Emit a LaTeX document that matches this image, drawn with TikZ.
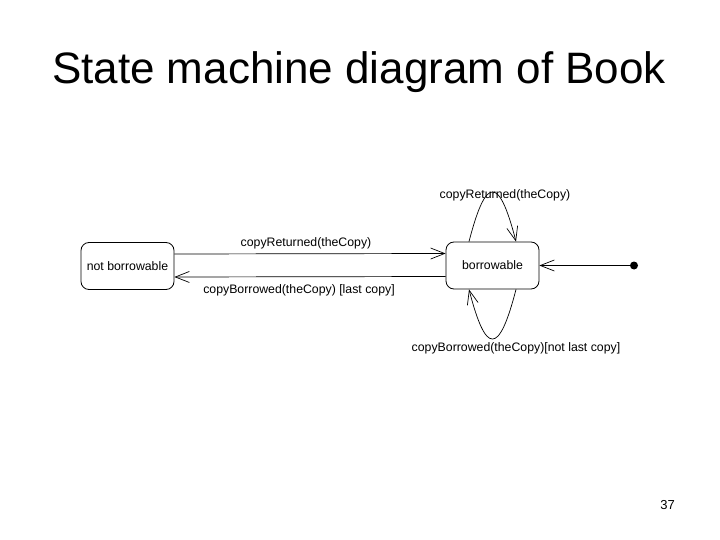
\documentclass[tikz,border=0pt]{standalone}
\usepackage{fontspec}
\setmainfont{Liberation Sans}
\usetikzlibrary{arrows.meta}
\begin{document}
\begin{tikzpicture}[x=1pt,y=-1pt,
  statebox/.style={draw,line width=0.8pt,rounded corners=8pt,minimum width=93pt,minimum height=47pt,inner sep=0pt,font=\fontsize{12.3}{15}\selectfont},
  lbl/.style={anchor=base,inner sep=0pt,font=\fontsize{12.3}{15}\selectfont},
  arr/.style={line width=0.7pt,-{Straight Barb[length=14pt,width=11pt,line width=0.7pt]}}]
\useasboundingbox (0,0) rectangle (720,540);
\node[anchor=base,inner sep=0pt,font=\fontsize{44}{50}\selectfont] (title) at (359,84) {State machine diagram of Book};
\node[statebox] (nb) at (127.5,266) {not borrowable};
\node[statebox] (b) at (492.5,265.5) {borrowable};
\node[circle,fill,inner sep=0pt,minimum size=8pt] (init) at (634,265.5) {};
\draw[arr] ([yshift=12pt]nb.east) -- ([yshift=12pt]b.west);
\draw[arr] ([yshift=-11pt]b.west) -- ([yshift=-11pt]nb.east);
\draw[arr] (init) -- (b.east);
\draw[arr] ([xshift=-23.5pt]b.north) .. controls +(17,-66) and +(-17,-66) .. ([xshift=23.5pt]b.north);
\draw[arr] ([xshift=23.5pt]b.south) .. controls +(-17,66) and +(17,66) .. ([xshift=-23.5pt]b.south);
\node[lbl] (l1) at (306,247) {copyReturned(theCopy)};
\node[lbl] (l2) at (299,293) {copyBorrowed(theCopy) [last copy]};
\node[lbl] (l3) at (505,198.5) {copyReturned(theCopy)};
\node[lbl] (l4) at (516,351) {copyBorrowed(theCopy)[not last copy]};
\node[anchor=base,inner sep=0pt,font=\fontsize{13}{15}\selectfont] (pg) at (667.5,509) {37};
\end{tikzpicture}
\end{document}
